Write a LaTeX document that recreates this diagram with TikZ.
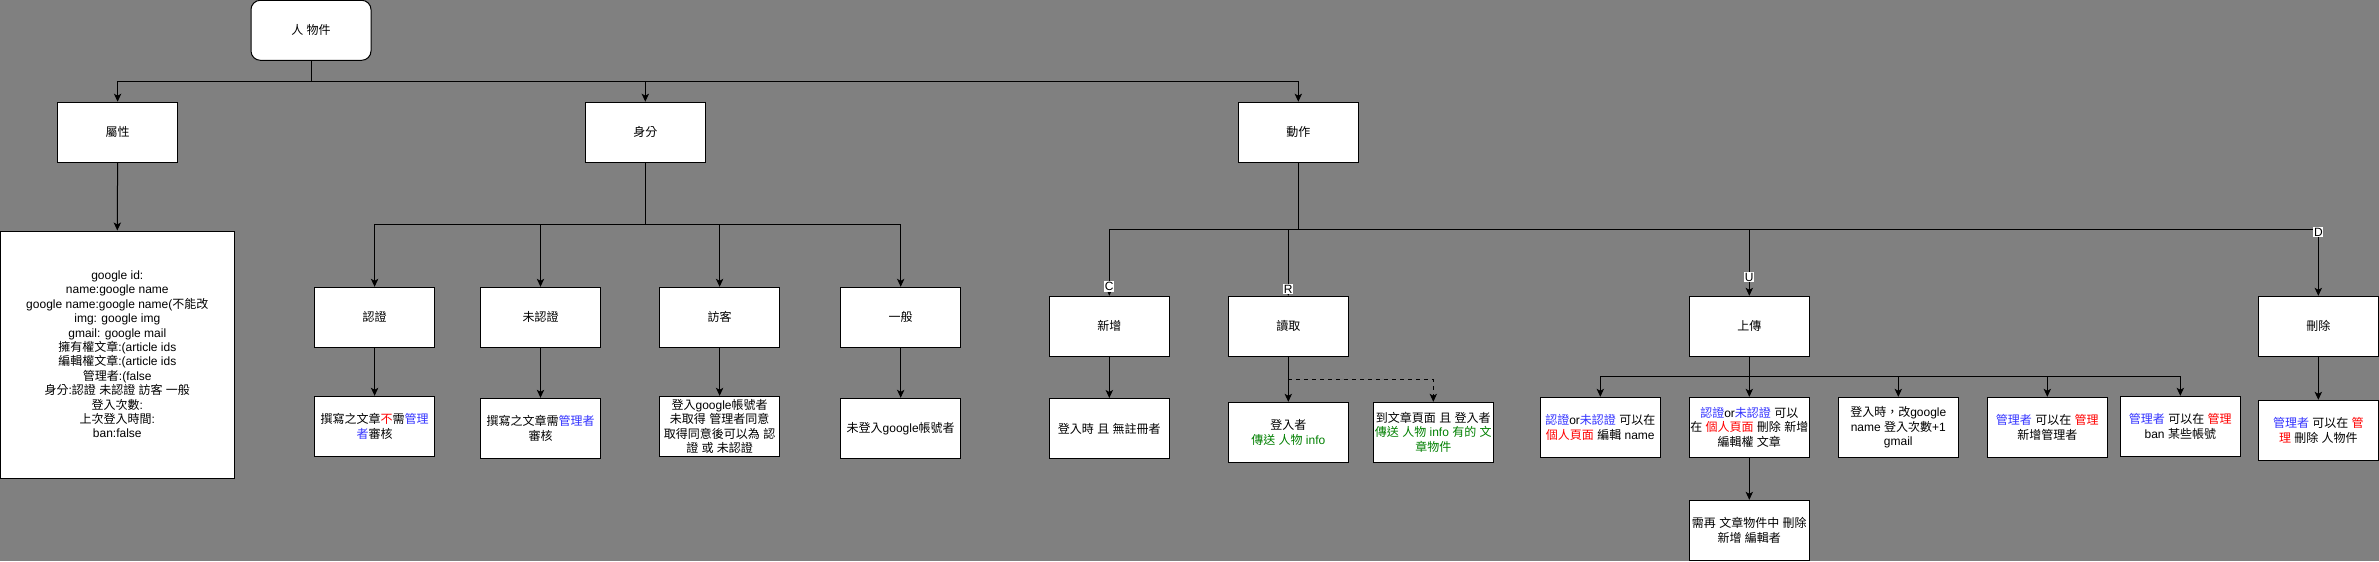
\documentclass[tikz,border=0pt]{standalone}
\usepackage{fontspec}
\setmainfont{Liberation Sans}
\newfontfamily\cjkfont{Noto Sans CJK TC}
\usetikzlibrary{arrows.meta}
\definecolor{bggray}{RGB}{128,128,128}
\definecolor{tblue}{RGB}{51,51,255}
\definecolor{tred}{RGB}{255,0,0}
\definecolor{tgreen}{RGB}{0,128,0}
\newcommand{\myblue}[1]{\textcolor{tblue}{#1}}
\newcommand{\myred}[1]{\textcolor{tred}{#1}}
\newcommand{\mygreen}[1]{\textcolor{tgreen}{#1}}
% automatic switch to the CJK font for CJK characters
\chardef\mycjkclass=10
\makeatletter
\count@="3000
\loop\XeTeXcharclass\count@=\mycjkclass\ifnum\count@<"303F\advance\count@ 1\repeat
\count@="4E00
\loop\XeTeXcharclass\count@=\mycjkclass\ifnum\count@<"9FFF\advance\count@ 1\repeat
\count@="FF00
\loop\XeTeXcharclass\count@=\mycjkclass\ifnum\count@<"FFEF\advance\count@ 1\repeat
\makeatother
\XeTeXinterchartoks 0 \mycjkclass = {\begingroup\cjkfont}
\XeTeXinterchartoks 4095 \mycjkclass = {\begingroup\cjkfont}
\XeTeXinterchartoks \mycjkclass 0 = {\endgroup}
\XeTeXinterchartoks \mycjkclass 4095 = {\endgroup}
\XeTeXinterchartokenstate=1
\begin{document}
\begin{tikzpicture}[x=0.75pt,y=-0.75pt,
  box/.style={draw=black, fill=white, line width=0.75pt, minimum width=90pt, minimum height=45pt, inner sep=0pt, align=center, font=\fontsize{9pt}{10.8pt}\selectfont},
  arr/.style={draw=black, line width=0.75pt, -{Stealth[length=6pt,width=5.5pt,inset=1.5pt]}},
  lbl/.style={fill=white, inner sep=0.6pt, font=\fontsize{9pt}{10.8pt}\selectfont}]
\fill[bggray] (0,0) rectangle (2379,561);
\useasboundingbox (0,0) rectangle (2379,561);

% top level
\node[box, rounded corners=7pt] (root) at (311,30.3) {人 物件};
\node[box] (shux) at (117.6,132.2) {屬性};
\node[box] (sf) at (645.3,132.2) {身分};
\node[box] (dz) at (1298.3,132.2) {動作};

\node[box, minimum width=175.5pt, minimum height=185.25pt] (attr) at (117.3,354.5) {google id:\\name:google name\\google name:google name(不能改\\img: google img\\gmail: google mail\\擁有權文章:(article ids\\編輯權文章:(article ids\\管理者:(false\\身分:認證 未認證 訪客 一般\\登入次數:\\上次登入時間:\\ban:false};

% identity
\node[box] (rz) at (374.6,317.3) {認證};
\node[box] (wrz) at (540.5,317.3) {未認證};
\node[box] (fk) at (719.6,317.3) {訪客};
\node[box] (yb) at (900.7,317.3) {一般};
\node[box] (rzd) at (374.6,426.3) {撰寫之文章\myred{不}需\myblue{管理}\\\myblue{者}審核};
\node[box] (wrzd) at (540.5,428.3) {撰寫之文章需\myblue{管理者}\\審核};
\node[box] (fkd) at (719.6,426.3) {登入google帳號者\\未取得 管理者同意\\取得同意後可以為 認\\證 或 未認證};
\node[box] (ybd) at (900.7,428.3) {未登入google帳號者};

% actions
\node[box] (xz) at (1109.3,326.3) {新增};
\node[box] (rq) at (1288.3,326.3) {讀取};
\node[box] (up) at (1749.3,326.3) {上傳};
\node[box] (sc) at (2318.3,326.3) {刪除};
\node[box] (xzd) at (1109.3,428.5) {登入時 且 無註冊者};
\node[box] (rd1) at (1288.3,432.3) {登入者\\\mygreen{傳送 人物 info}};
\node[box] (rd2) at (1433.3,432.3) {到文章頁面 且 登入者\\\mygreen{傳送 人物 info 有的 文}\\\mygreen{章物件}};
\node[box] (u1) at (1600.3,427.3) {\myblue{認證}or\myblue{未認證} 可以在\\\myred{個人頁面} 編輯 name};
\node[box] (u2) at (1749.3,427.3) {\myblue{認證}or\myblue{未認證} 可以\\在 \myred{個人頁面} 刪除 新增\\編輯權 文章};
\node[box] (u3) at (1898.3,427.3) {登入時，改google\\name 登入次數+1\\gmail};
\node[box] (u4) at (2047.3,427.3) {\myblue{管理者} 可以在 \myred{管理}\\新增管理者};
\node[box] (u5) at (2180.3,426.3) {\myblue{管理者} 可以在 \myred{管理}\\ban 某些帳號};
\node[box] (u2d) at (1749.3,530.3) {需再 文章物件中 刪除\\新增 編輯者};
\node[box] (scd) at (2318.3,430.3) {\myblue{管理者} 可以在 \myred{管}\\\myred{理} 刪除 人物件};

% branch points
\coordinate (b0) at (311,81.3);
\coordinate (b1) at (645.3,224.3);
\coordinate (b2) at (1298.3,229.3);
\coordinate (b3) at (1749.3,376.7);
\coordinate (dsh) at (1288.3,379.3);

% connectors
\draw[arr] (root.south) -- (b0) -| (shux.north);
\draw[arr] (b0) -| (sf.north);
\draw[arr] (b0) -| (dz.north);
\draw[arr] (shux.south) -- (attr.north);

\draw[arr] (sf.south) -- (b1) -| (rz.north);
\draw[arr] (b1) -| (wrz.north);
\draw[arr] (b1) -| (fk.north);
\draw[arr] (b1) -| (yb.north);
\draw[arr] (rz.south) -- (rzd.north);
\draw[arr] (wrz.south) -- (wrzd.north);
\draw[arr] (fk.south) -- (fkd.north);
\draw[arr] (yb.south) -- (ybd.north);

\draw[arr] (dz.south) -- (b2) -| node[lbl, pos=0.93] {C} (xz.north);
\draw[arr] (b2) -| node[lbl, pos=0.95] {R} (rq.north);
\draw[arr] (b2) -| node[lbl, pos=0.86] {U} (up.north);
\draw[arr] (b2) -| node[lbl, pos=0.52] {D} (sc.north);

\draw[arr] (xz.south) -- (xzd.north);
\draw[arr] (rq.south) -- (rd1.north);
\draw[arr, dashed] (dsh) -| (rd2.north);

\draw[arr] (up.south) -- (b3) -| (u1.north);
\draw[arr] (b3) -- (u2.north);
\draw[arr] (b3) -| (u3.north);
\draw[arr] (b3) -| (u4.north);
\draw[arr] (b3) -| (u5.north);
\draw[arr] (u2.south) -- (u2d.north);

\draw[arr] (sc.south) -- (scd.north);
\end{tikzpicture}
\end{document}
